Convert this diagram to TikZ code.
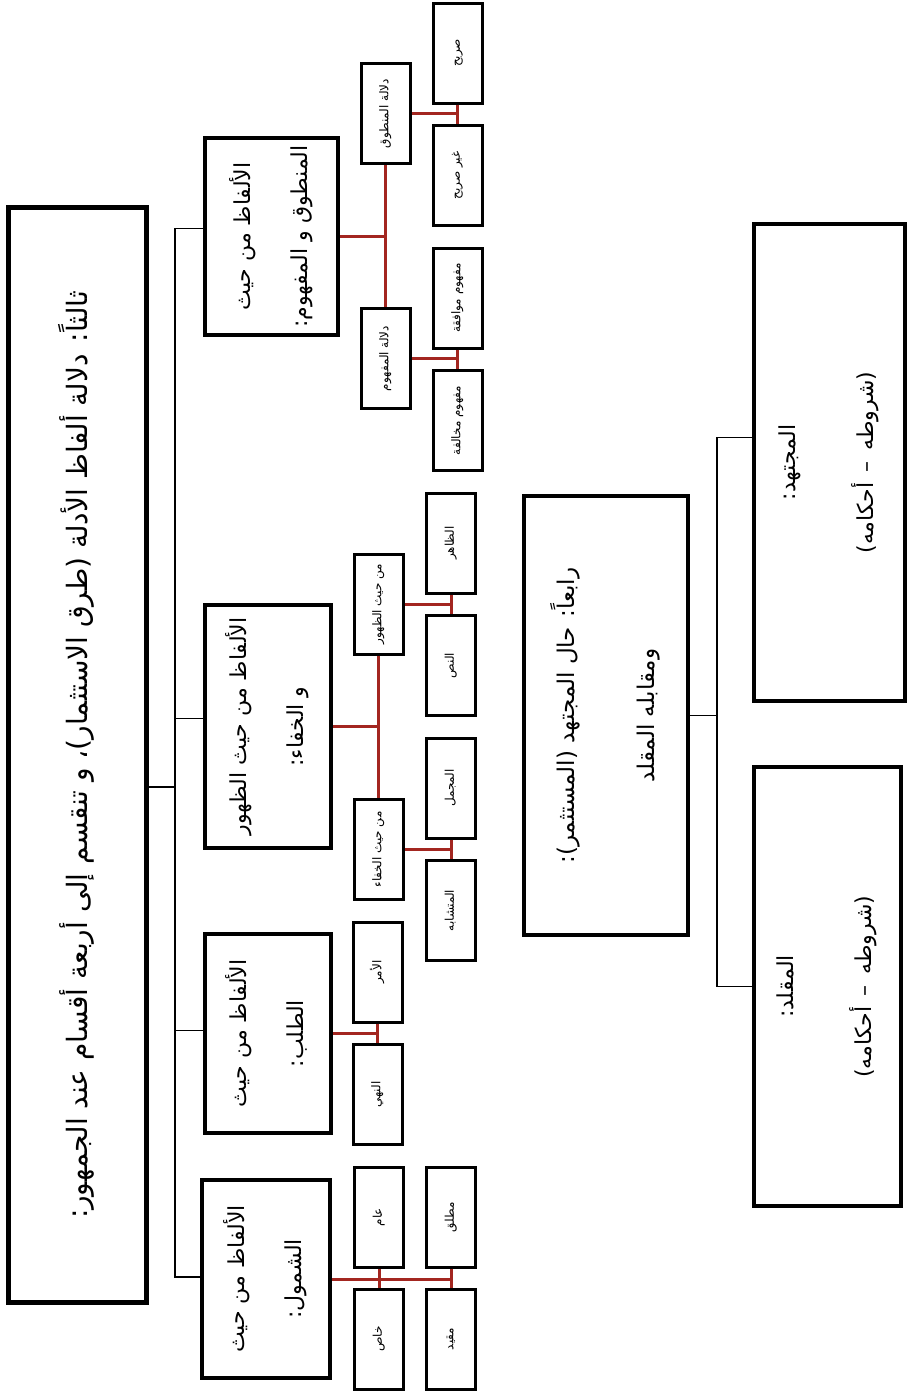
\documentclass[tikz,border=0pt]{standalone}
\usepackage{fontspec}
\usepackage{graphicx}
\newfontfamily\arabicfont[Script=Arabic]{DejaVu Sans}
\TeXXeTstate=1
\definecolor{linkred}{RGB}{163,38,32}
\newcommand{\ar}[1]{{\arabicfont\beginR #1\endR}}
\newcommand{\vtext}[2][20]{\rotatebox{90}{\fontsize{#1}{#1}\selectfont\begin{tabular}{c}#2\end{tabular}}}

\begin{document}
\begin{tikzpicture}[x=1pt, y=-1pt,
	mainbox/.style={draw, line width=5pt, inner sep=0pt},
	grpbox/.style={draw, line width=4pt, inner sep=0pt},
	leafbox/.style={draw, line width=3pt, inner sep=0pt, minimum width=49pt, minimum height=100pt},
	redlink/.style={draw=linkred, line width=3pt},
	link/.style={draw, line width=1.5pt}]

	\useasboundingbox (0,0) rectangle (909,1393);

	% main box
	\node[mainbox, minimum width=138pt, minimum height=1095pt] (m) at (77.5,755) {\vtext[28]{\ar{ثالثاً: دلالة ألفاظ الأدلة (طرق الاستثمار)، و تنقسم إلى أربعة أقسام عند الجمهور:}}};

	% four groups
	\node[grpbox, minimum width=133pt, minimum height=197pt] (g1) at (271.5,236.5) {\vtext[22]{\ar{الألفاظ من حيث}\\[34pt]\ar{المنطوق و المفهوم:}}};
	\node[grpbox, minimum width=126pt, minimum height=243pt] (g2) at (268,726.5) {\vtext[22]{\ar{الألفاظ من حيث الظهور}\\[34pt]\ar{و الخفاء:}}};
	\node[grpbox, minimum width=126pt, minimum height=199pt] (g3) at (268,1033.5) {\vtext[22]{\ar{الألفاظ من حيث}\\[34pt]\ar{الطلب:}}};
	\node[grpbox, minimum width=128pt, minimum height=198pt] (g4) at (266,1279) {\vtext[22]{\ar{الألفاظ من حيث}\\[34pt]\ar{الشمول:}}};

	% second level
	\node[leafbox] (mantuq) at (385.5,113.5) {\vtext[12]{\ar{دلالة المنطوق}}};
	\node[leafbox] (mafhum) at (385.5,358.5) {\vtext[12]{\ar{دلالة المفهوم}}};
	\node[leafbox] (zuhur) at (378.5,604) {\vtext[12]{\ar{من حيث الظهور}}};
	\node[leafbox] (khafa) at (378.5,849.5) {\vtext[12]{\ar{من حيث الخفاء}}};
	\node[leafbox] (amr) at (377.5,972) {\vtext[12]{\ar{الأمر}}};
	\node[leafbox] (nahy) at (377.5,1094.5) {\vtext[12]{\ar{النهي}}};
	\node[leafbox] (amm) at (379,1217) {\vtext[12]{\ar{عام}}};
	\node[leafbox] (khass) at (379,1339) {\vtext[12]{\ar{خاص}}};

	% third level
	\node[leafbox] (sarih) at (457.5,53) {\vtext[12]{\ar{صريح}}};
	\node[leafbox] (ghayr) at (457.5,175.5) {\vtext[12]{\ar{غير صريح}}};
	\node[leafbox] (muwafaqa) at (457.5,298) {\vtext[12]{\ar{مفهوم موافقة}}};
	\node[leafbox] (mukhalafa) at (457.5,420.5) {\vtext[12]{\ar{مفهوم مخالفة}}};
	\node[leafbox] (zahir) at (451,543) {\vtext[12]{\ar{الظاهر}}};
	\node[leafbox] (nass) at (451,665.5) {\vtext[12]{\ar{النص}}};
	\node[leafbox] (mujmal) at (451,788) {\vtext[12]{\ar{المجمل}}};
	\node[leafbox] (mutashabih) at (451,910.5) {\vtext[12]{\ar{المتشابه}}};
	\node[leafbox] (mutlaq) at (451,1217) {\vtext[12]{\ar{مطلق}}};
	\node[leafbox] (muqayyad) at (451,1339) {\vtext[12]{\ar{مقيد}}};

	% fourth part
	\node[grpbox, minimum width=164pt, minimum height=439pt] (r) at (606,715.5) {\vtext[23]{\ar{رابعاً: حال المجتهد (المستثمر):}\\[56pt]\ar{ومقابله المقلد}}};
	\node[grpbox, minimum width=151pt, minimum height=477pt] (mujt) at (829.5,462.5) {\vtext[22]{\ar{المجتهد:}\\[50pt]\ar{(شروطه \,–\, أحكامه)}}};
	\node[grpbox, minimum width=147pt, minimum height=439pt] (muql) at (827.5,986.5) {\vtext[22]{\ar{المقلد:}\\[50pt]\ar{(شروطه \,–\, أحكامه)}}};

	% black links
	\coordinate (trunk) at (175,787);
	\draw[link] (m.east |- trunk) -- (trunk);
	\draw[link] ([yshift=8pt]g1.west) -| (trunk) |- ([yshift=2pt]g4.west);
	\draw[link] ([yshift=8pt]g2.west) -- ([yshift=8pt]g2.west -| trunk);
	\draw[link] ([yshift=3pt]g3.west) -- ([yshift=3pt]g3.west -| trunk);

	\coordinate (split) at (717,715.5);
	\draw[link] (r.east) -- (split);
	\draw[link] ([yshift=25pt]mujt.west) -| (split) |- (muql.west);

	% red links
	\draw[redlink] (g1.east) -- (g1.east -| mantuq.south);
	\draw[redlink] (mantuq.south) -- (mafhum.north);
	\draw[redlink] (mantuq.east) -- (mantuq.east -| sarih.south);
	\draw[redlink] (sarih.south) -- (ghayr.north);
	\draw[redlink] (mafhum.east) -- (mafhum.east -| muwafaqa.south);
	\draw[redlink] (muwafaqa.south) -- (mukhalafa.north);

	\draw[redlink] (g2.east) -- (g2.east -| zuhur.south);
	\draw[redlink] (zuhur.south) -- (khafa.north);
	\draw[redlink] (zuhur.east) -- (zuhur.east -| zahir.south);
	\draw[redlink] (zahir.south) -- (nass.north);
	\draw[redlink] (khafa.east) -- (khafa.east -| mujmal.south);
	\draw[redlink] (mujmal.south) -- (mutashabih.north);

	\draw[redlink] (g3.east) -- (g3.east -| amr.south);
	\draw[redlink] (amr.south) -- (nahy.north);

	\draw[redlink] (g4.east) -- (g4.east -| mutlaq.south);
	\draw[redlink] (amm.south) -- (khass.north);
	\draw[redlink] (mutlaq.south) -- (muqayyad.north);
\end{tikzpicture}
\end{document}
